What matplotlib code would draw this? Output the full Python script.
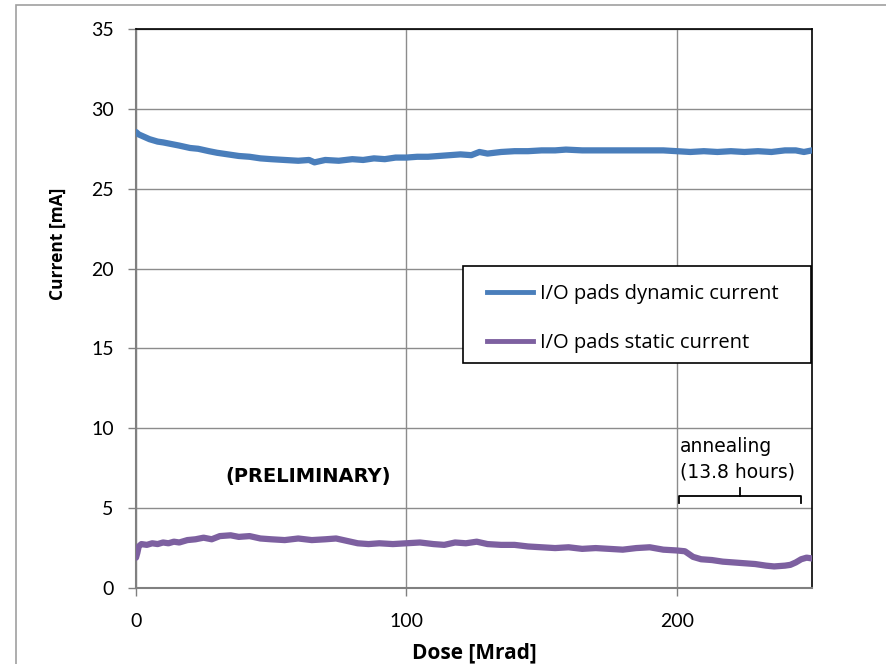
import matplotlib.pyplot as plt
from matplotlib.patches import Rectangle
from matplotlib.lines import Line2D

# Dose [Mrad] and current [mA]
dose_dyn = [0, 1, 3, 5, 8, 10, 13, 16, 20, 23, 27, 30, 34, 38, 42, 46, 50, 55, 60,
            64, 66, 70, 75, 80, 84, 88, 92, 96, 100, 104, 108, 112, 116, 120, 124,
            127, 130, 135, 140, 145, 150, 155, 159, 165, 170, 175, 180, 185, 190,
            195, 200, 205, 210, 215, 220, 225, 230, 235, 240, 244, 247, 250]
dyn_current = [28.55, 28.4, 28.25, 28.1, 27.95, 27.9, 27.8, 27.7, 27.55, 27.5, 27.35,
               27.25, 27.15, 27.05, 27.0, 26.9, 26.85, 26.8, 26.75, 26.8, 26.65, 26.8,
               26.75, 26.85, 26.8, 26.9, 26.85, 26.95, 26.95, 27.0, 27.0, 27.05, 27.1,
               27.15, 27.1, 27.3, 27.2, 27.3, 27.35, 27.35, 27.4, 27.4, 27.45, 27.4,
               27.4, 27.4, 27.4, 27.4, 27.4, 27.4, 27.35, 27.3, 27.35, 27.3, 27.35,
               27.3, 27.35, 27.3, 27.4, 27.4, 27.3, 27.4]

dose_sta = [0, 0.5, 1, 2, 4, 6, 8, 10, 12, 14, 16, 19, 22, 25, 28, 31, 35, 38, 42,
            46, 50, 55, 60, 65, 70, 74, 78, 82, 86, 90, 95, 100, 105, 110, 114, 118,
            122, 126, 130, 135, 140, 145, 150, 155, 160, 165, 170, 175, 180, 185,
            190, 195, 200, 203, 206, 209, 213, 217, 221, 225, 229, 233, 236, 240,
            242, 244, 246, 248, 250]
sta_current = [1.9, 2.2, 2.6, 2.75, 2.7, 2.8, 2.75, 2.85, 2.8, 2.9, 2.85, 3.0, 3.05,
               3.15, 3.05, 3.25, 3.3, 3.2, 3.25, 3.1, 3.05, 3.0, 3.1, 3.0, 3.05, 3.1,
               2.95, 2.8, 2.75, 2.8, 2.75, 2.8, 2.85, 2.75, 2.7, 2.85, 2.8, 2.9, 2.75,
               2.7, 2.7, 2.6, 2.55, 2.5, 2.55, 2.45, 2.5, 2.45, 2.4, 2.5, 2.55, 2.4,
               2.35, 2.3, 1.95, 1.8, 1.75, 1.65, 1.6, 1.55, 1.5, 1.4, 1.35, 1.4, 1.45,
               1.6, 1.8, 1.9, 1.85]

series_names = ['I/O pads dynamic current', 'I/O pads static current']
x_ticks = [0, 100, 200]
y_ticks = [0, 5, 10, 15, 20, 25, 30, 35]

blue = '#4a7ebb'
purple = '#7d60a0'
grid_col = '#8c8c8c'

W, H = 887, 664
L, R, T, B = 136, 812, 29, 588

fig = plt.figure(figsize=(W / 100, H / 100), dpi=100)
ax = fig.add_axes([L / W, 1 - B / H, (R - L) / W, (B - T) / H])


def ax_frac(px, py):
    # pixel position in the picture -> axes fraction
    return (px - L) / (R - L), (B - py) / (B - T)


# outer chart border (only top and left visible in the crop)
fig.patches.append(Rectangle((16 / W, -0.1), 1.0, 1 - 5 / H + 0.1,
                             transform=fig.transFigure, fill=False,
                             edgecolor='#a0a0a0', linewidth=1.2))

ax.plot(dose_dyn, dyn_current, color=blue, linewidth=4.5, solid_capstyle='round',
        solid_joinstyle='round', zorder=3)
ax.plot(dose_sta, sta_current, color=purple, linewidth=4.5, solid_capstyle='round',
        solid_joinstyle='round', zorder=3)

ax.set_xlim(0, 250)
ax.set_ylim(0, 35)
ax.set_xticks(x_ticks)
ax.set_yticks(y_ticks)
ax.grid(True, color=grid_col, linewidth=1)
ax.set_axisbelow(True)
for s in ['left', 'bottom']:
    ax.spines[s].set_color('#808080')
    ax.spines[s].set_linewidth(1.5)
for s in ['top', 'right']:
    ax.spines[s].set_color('black')
    ax.spines[s].set_linewidth(1.2)
ax.tick_params(axis='both', direction='out', length=6, width=1, color='#808080',
               labelsize=14)
ax.tick_params(axis='y', pad=10)
ax.tick_params(axis='x', pad=12)
for lab in ax.get_xticklabels() + ax.get_yticklabels():
    lab.set_fontfamily('Lato')

ax.set_xlabel('Dose [Mrad]', fontfamily='Open Sans', fontweight='bold', fontsize=15,
              va='center')
ax.set_ylabel('Current [mA]', fontfamily='Open Sans', fontweight='bold', fontsize=12.5,
              va='center')
ax.xaxis.set_label_coords(*ax_frac(474, 653))
ax.yaxis.set_label_coords(*ax_frac(58, 244))

# legend: entries without frame, box drawn separately
handles = [Line2D([], [], color=blue, linewidth=3.5),
           Line2D([], [], color=purple, linewidth=3.5)]
leg = ax.legend(handles, series_names, loc='upper left',
                bbox_to_anchor=ax_frac(487, 284), prop={'family': 'Open Sans', 'size': 14.5},
                frameon=False, handlelength=2.3, handletextpad=0.35,
                labelspacing=1.45, borderpad=0, borderaxespad=0)
bx0, by0 = ax_frac(463, 363)
bx1, by1 = ax_frac(811, 266)
ax.add_patch(Rectangle((bx0, by0), bx1 - bx0, by1 - by0, transform=ax.transAxes,
                       facecolor='white', edgecolor='black', linewidth=1.2,
                       zorder=4))
leg.set_zorder(5)

ax.text(63.6, 7.0, '(PRELIMINARY)', fontfamily='DejaVu Sans', fontweight='bold',
        fontsize=14, ha='center', va='center')
ax.text(201.0, 9.45, 'annealing\n(13.8 hours)', fontfamily='DejaVu Sans',
        fontsize=13.5, ha='left', va='top', linespacing=1.4)

# bracket over the annealing period
ax.plot([200.8, 200.8, 245.8, 245.8], [5.3, 5.76, 5.76, 5.3], color='black',
        linewidth=1.3, zorder=4)
ax.plot([223.3, 223.3], [5.76, 6.26], color='black', linewidth=1.3, zorder=4)

fig.savefig('out.png', dpi=100)
